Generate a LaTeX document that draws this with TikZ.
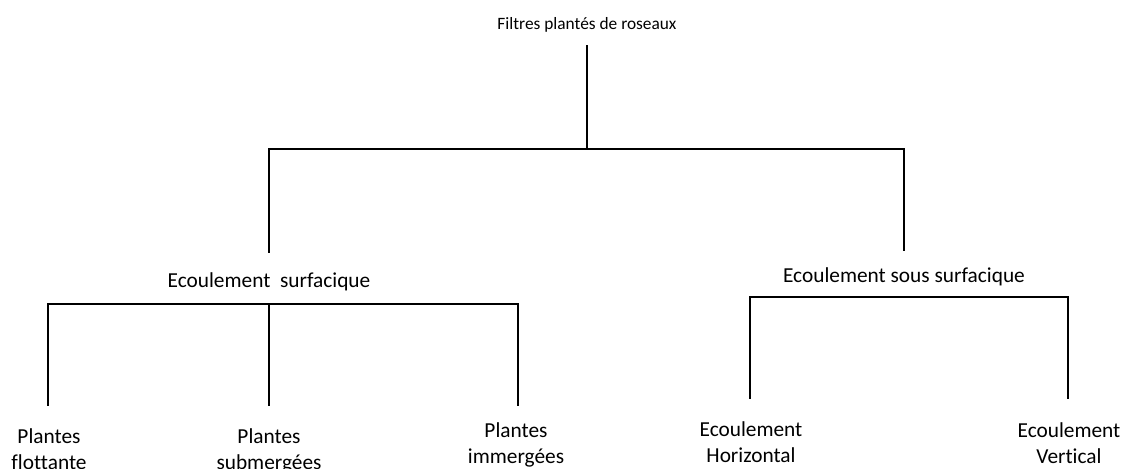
\documentclass[tikz,border=0pt]{standalone}
\usepackage{fontspec}
\setmainfont{Carlito}[Ligatures={NoCommon}]
\begin{document}
\begin{tikzpicture}[x=0.75pt,y=-0.75pt,
  lbl/.style={inner sep=0pt,outer sep=0pt,anchor=base,align=center,font=\fontsize{16pt}{19.5pt}\selectfont},
  toplbl/.style={lbl,font=\fontsize{13pt}{16pt}\selectfont},
  conn/.style={line width=1.4pt,line cap=rect}]
\useasboundingbox (0,0) rectangle (1125,468);
% labels
\node[toplbl] (root) at (587,29) {Filtres plantés de roseaux};
\node[lbl] (surf) at (269,287) {Ecoulement\ \ surfacique};
\node[lbl] (sous) at (904,282) {Ecoulement sous surfacique};
\node[lbl] (flot) at (49,469) {Plantes\\flottante};
\node[lbl] (subm) at (269,469) {Plantes\\submergées};
\node[lbl] (imme) at (516,463) {Plantes\\immergées};
\node[lbl] (hori) at (751,462) {Ecoulement\\Horizontal};
\node[lbl] (vert) at (1069,463) {Ecoulement\\Vertical};
% junction coordinates
\coordinate (r0) at (587,46);
\coordinate (r1) at (587,149);
\coordinate (rl) at (269,149);
\coordinate (rr) at (904,149);
\coordinate (rle) at (269,252);
\coordinate (rre) at (904,250);
\coordinate (sl) at (48,304);
\coordinate (sm) at (269,304);
\coordinate (sr) at (518,304);
\coordinate (sle) at (48,405);
\coordinate (sme) at (269,405);
\coordinate (sre) at (518,405);
\coordinate (ul) at (750,297);
\coordinate (ur) at (1068,297);
\coordinate (ule) at (750,398);
\coordinate (ure) at (1068,398);
% connectors
\draw[conn] (r0) -- (r1);
\draw[conn] (rle) -- (rl) -- (rr) -- (rre);
\draw[conn] (sle) -- (sl) -- (sr) -- (sre);
\draw[conn] (sm) -- (sme);
\draw[conn] (ule) -- (ul) -- (ur) -- (ure);
\end{tikzpicture}
\end{document}
